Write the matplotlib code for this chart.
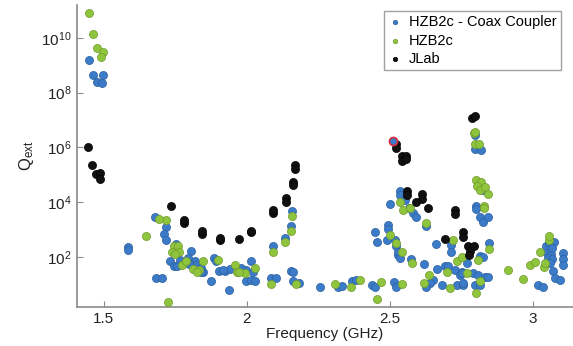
import numpy as np
import matplotlib
matplotlib.use('Agg')
import matplotlib.pyplot as plt

plt.rcParams['font.family'] = ['Liberation Sans', 'DejaVu Sans']
plt.rcParams['mathtext.fontset'] = 'custom'
plt.rcParams['mathtext.rm'] = 'Liberation Sans'
plt.rcParams['mathtext.it'] = 'Liberation Sans'

# frequencies in GHz, Qext given as log10 exponents

# HZB2c - Coax Coupler (blue)
coax_f = [1.449, 1.464, 1.497, 1.478, 1.494,
          1.584, 1.584, 1.679, 1.719, 1.711, 1.719, 1.753, 1.806,
          1.733, 1.744, 1.756, 1.767, 1.795, 1.818, 1.824, 1.798, 1.847, 1.839,
          1.887, 1.894, 1.902, 1.923, 1.941, 1.976, 1.999, 1.874, 1.938,
          1.682, 1.703, 1.999, 2.014, 2.016, 2.028, 1.917, 1.981, 2.022, 1.841,
          2.083, 2.103, 2.093, 2.133, 2.153, 2.159, 2.156, 2.162, 2.162, 2.182,
          2.255, 2.320, 2.334, 2.366, 2.381, 2.436, 2.448, 2.448, 2.456,
          2.491, 2.495, 2.495, 2.500, 2.535, 2.535, 2.567, 2.581, 2.591, 2.552,
          2.517, 2.521, 2.529, 2.527, 2.535, 2.573, 2.626, 2.619, 2.663, 2.665,
          2.692, 2.704, 2.712, 2.715, 2.727, 2.745, 2.770, 2.751, 2.651, 2.640,
          2.626, 2.681, 2.733, 2.756, 2.514, 2.523,
          2.797, 2.797, 2.817, 2.826, 2.801, 2.801, 2.815, 2.826, 2.844, 2.847,
          2.815, 2.826, 2.791, 2.809, 2.751, 2.832, 2.844, 2.797, 2.815, 2.756,
          3.019, 3.034, 3.045, 3.057, 3.073, 3.050, 3.062, 3.053, 3.065, 3.059,
          3.071, 3.077, 3.094, 3.106, 3.106, 3.106, 3.065]
coax_q = [9.19, 8.65, 8.65, 8.40, 8.34,
          2.35, 2.26, 3.45, 3.09, 2.85, 2.60, 2.48, 2.22,
          1.85, 1.65, 1.67, 1.89, 1.95, 1.85, 1.71, 1.73, 1.46, 1.59,
          1.97, 1.83, 1.50, 1.50, 1.56, 1.56, 1.52, 1.13, 0.77,
          1.21, 1.23, 1.10, 1.85, 1.16, 1.11, 1.52, 1.59, 1.43, 1.46,
          1.24, 1.22, 2.38, 2.68, 3.11, 3.67, 1.50, 1.43, 1.12, 1.06,
          0.89, 0.91, 0.95, 1.13, 1.15, 0.97, 0.91, 2.89, 2.56,
          2.62, 3.17, 3.01, 3.93, 4.42, 4.27, 3.78, 3.60, 3.47, 4.08,
          2.62, 2.38, 2.07, 2.19, 1.95, 1.92, 3.11, 1.73, 2.48, 1.55,
          1.67, 1.65, 2.44, 2.19, 1.52, 1.34, 1.77, 1.46, 1.16, 1.04,
          0.91, 0.98, 0.98, 0.98, 1.07, 0.88,
          6.46, 5.94, 5.91, 4.45, 3.86, 3.74, 3.47, 3.29, 3.47, 2.50,
          2.04, 2.01, 1.40, 1.34, 1.40, 1.28, 1.28, 0.98, 0.98, 1.06,
          0.98, 0.91, 2.38, 2.50, 2.56, 2.14, 2.11, 1.95, 1.92, 1.77,
          1.50, 1.23, 1.16, 2.14, 1.92, 1.71, 2.32]

# HZB2c (green)
hzb_f = [1.449, 1.464, 1.478, 1.499, 1.489,
         1.649, 1.718, 1.692, 1.744, 1.760, 1.740, 1.762, 1.748, 1.775, 1.789,
         1.812, 1.832, 1.847, 1.826, 1.898, 1.958, 1.967, 1.994, 1.725, 1.973, 2.028,
         2.090, 2.133, 2.153, 2.159, 2.086, 2.173, 2.309, 2.363, 2.395, 2.456, 2.469,
         2.535, 2.547, 2.570, 2.500, 2.521, 2.541, 2.628, 2.576, 2.719, 2.735,
         2.751, 2.698, 2.637, 2.619, 2.710, 2.541, 2.768,
         2.794, 2.797, 2.797, 2.812, 2.801, 2.820, 2.803, 2.815, 2.832, 2.844,
         2.829, 2.829, 2.847, 2.809, 2.815, 2.801,
         2.914, 2.964, 2.990, 3.007, 3.024, 3.038, 3.042, 3.057, 3.057]
hzb_q = [10.91, 10.15, 9.63, 9.50, 9.30,
         2.77, 3.33, 3.39, 2.38, 2.38, 2.19, 2.17, 2.11, 1.70, 1.83,
         1.56, 1.52, 1.85, 1.43, 1.89, 1.71, 1.46, 1.40, 0.35, 1.46, 1.59,
         2.17, 2.56, 2.96, 3.50, 1.01, 1.01, 0.99, 0.91, 1.16, 0.45, 1.07,
         4.02, 3.72, 3.78, 2.80, 2.50, 2.19, 3.25, 1.77, 2.62, 1.83,
         2.01, 1.46, 1.34, 1.04, 0.86, 1.00, 1.40,
         6.52, 6.56, 6.12, 6.12, 4.79, 4.75, 4.60, 4.45, 4.55, 4.30,
         3.86, 3.78, 2.29, 1.89, 1.10, 0.69,
         1.52, 1.20, 1.70, 1.80, 2.19, 1.62, 1.78, 2.62, 2.77]

# JLab (black)
jlab_f = [1.445, 1.458, 1.472, 1.486, 1.486,
          1.735, 1.780, 1.780, 1.844, 1.844, 1.907, 1.907, 1.973, 2.015, 2.015,
          2.093, 2.093, 2.136, 2.136, 2.163, 2.163, 2.170, 2.170,
          2.521, 2.523, 2.541, 2.556, 2.541, 2.556, 2.560, 2.560, 2.611, 2.614,
          2.593, 2.632, 2.727, 2.727, 2.754, 2.754, 2.692, 2.774, 2.780, 2.777,
          2.794, 2.786, 2.797]
jlab_q = [6.01, 5.37, 5.03, 5.08, 4.84,
          3.86, 3.25, 3.33, 2.85, 2.93, 2.62, 2.68, 2.66, 2.90, 2.96,
          3.62, 3.70, 4.15, 4.02, 4.75, 4.63, 5.36, 5.22,
          6.12, 5.97, 5.69, 5.69, 5.52, 5.57, 4.42, 4.27, 4.29, 4.13,
          4.01, 3.78, 3.72, 3.56, 2.90, 2.74, 2.66, 2.38, 2.20, 2.07,
          2.38, 7.07, 7.16]

# highlighted point (red edge)
mark_f = [2.512]
mark_q = [6.25]

blue = '#3b7bc8'
green = '#8fc43d'

fig = plt.figure(figsize=(5.73, 3.46), dpi=100)
ax = fig.add_axes([0.134, 0.113, 0.866, 0.873])

ms = 34
ax.scatter(coax_f, 10.0 ** np.array(coax_q), s=ms, c=blue, edgecolors='#2a5f9e',
           linewidths=0.5, label='HZB2c - Coax Coupler', zorder=3)
ax.scatter(hzb_f, 10.0 ** np.array(hzb_q), s=ms, c=green, edgecolors='#6f9a2c',
           linewidths=0.5, label='HZB2c', zorder=3)
ax.scatter(jlab_f, 10.0 ** np.array(jlab_q), s=ms, c='#111111', edgecolors='#000000',
           linewidths=0.5, label='JLab', zorder=4)
ax.scatter(mark_f, 10.0 ** np.array(mark_q), s=ms, c=blue, edgecolors='#e0283c',
           linewidths=1.2, zorder=5)

ax.set_yscale('log')
ax.set_xlim(1.406, 3.14)
ax.set_ylim(10 ** 0.17, 10 ** 11.21)
ax.set_xticks([1.5, 2, 2.5, 3])
ax.set_xticklabels(['1.5', '2', '2.5', '3'])
ax.set_yticks([1e2, 1e4, 1e6, 1e8, 1e10])
ax.set_yticklabels([r'$10^{2}$', r'$10^{4}$', r'$10^{6}$', r'$10^{8}$', r'$10^{10}$'])
ax.minorticks_off()

for s in ['top', 'right']:
    ax.spines[s].set_visible(False)
for s in ['left', 'bottom']:
    ax.spines[s].set_color('#8a8a8a')
    ax.spines[s].set_linewidth(1.2)
ax.tick_params(direction='in', color='#8a8a8a', length=4, labelsize=11, colors='#8a8a8a',
               labelcolor='#222222')

ax.set_xlabel('Frequency (GHz)', fontsize=11, labelpad=1, color='#222222')
ax.set_ylabel(r'Q$_{\mathrm{ext}}$', fontsize=12, labelpad=4, color='#222222')

leg = fig.legend(loc='upper left', bbox_to_anchor=(0.657, 0.99), fontsize=10.5,
                 markerscale=0.55, handletextpad=0.4, labelspacing=0.3,
                 borderpad=0.3, handlelength=1.0, frameon=True, fancybox=False)
leg.get_frame().set_edgecolor('#8a8a8a')
leg.get_frame().set_linewidth(1.0)

plt.savefig('out.png', dpi=100)
